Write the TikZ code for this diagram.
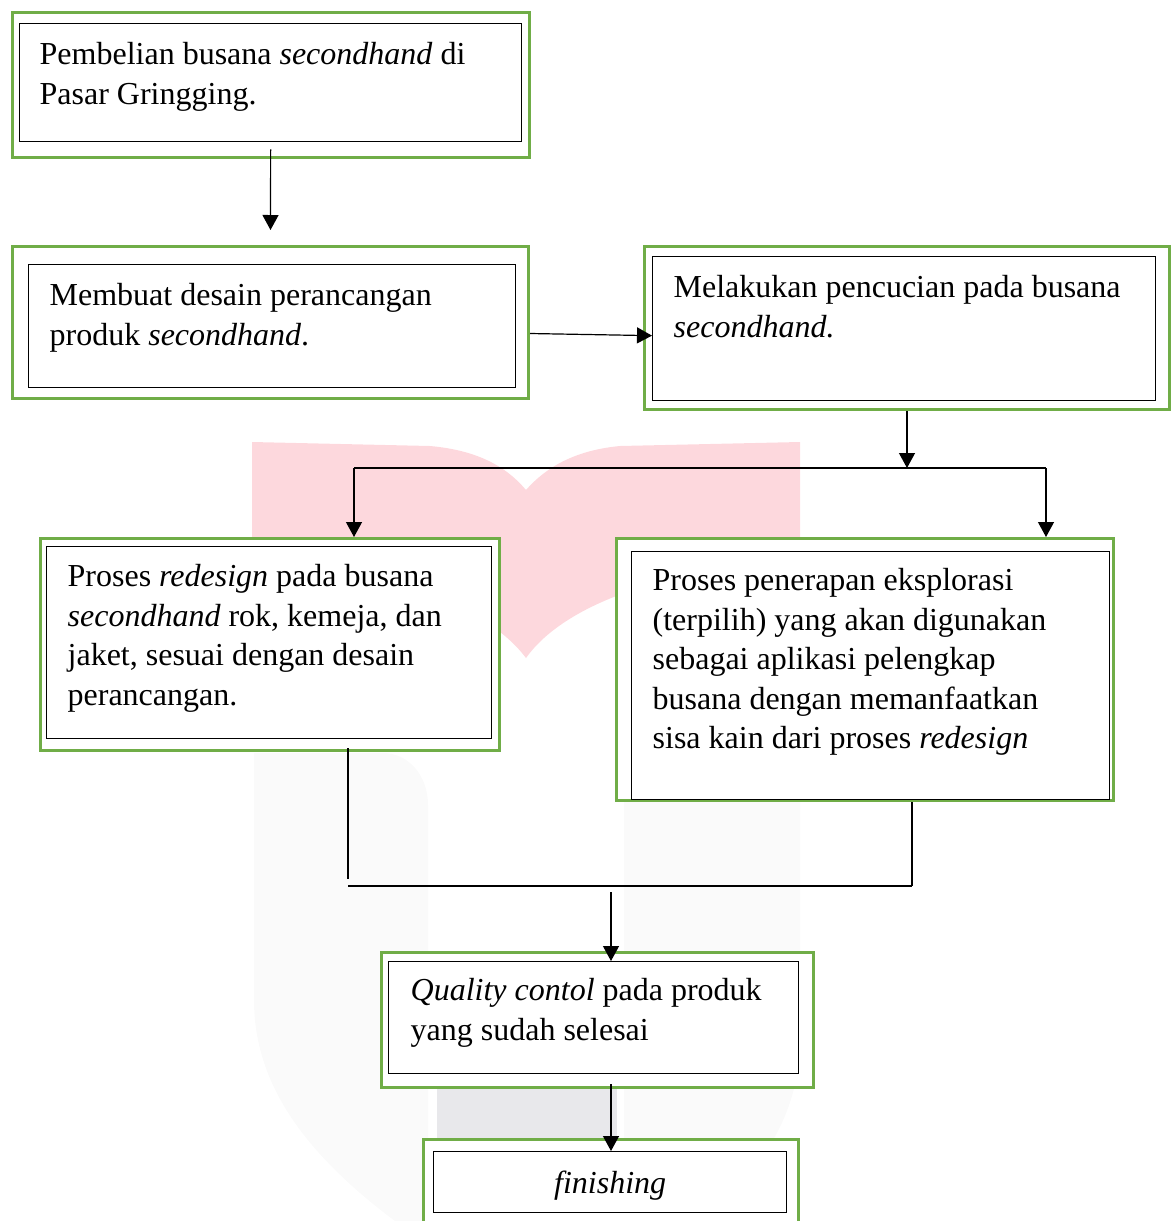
\documentclass[tikz,border=0pt]{standalone}
\usepackage{fontspec}
\setmainfont{Liberation Serif}
\usetikzlibrary{arrows.meta}

\definecolor{hijau}{RGB}{112,173,71}
\definecolor{merahmuda}{RGB}{253,216,221}
\definecolor{abumuda}{RGB}{250,250,250}
\definecolor{abutua}{RGB}{232,232,235}

\newcommand{\isi}[3]{\parbox[t][#2pt][t]{#1pt}{\raggedright #3}}

\begin{document}
\begin{tikzpicture}[x=1pt,y=-1pt,
  bingkai/.style={draw=hijau,line width=3pt,fill=white,inner sep=0pt,anchor=north west},
  kotak/.style={draw=black,line width=1.3pt,fill=white,anchor=north west,
    font=\fontsize{32}{39.5}\selectfont},
  garis/.style={line width=1.2pt},
  panah/.style={garis,-{Triangle[length=15pt,width=16pt]}}]
  \useasboundingbox (0,0) rectangle (1174,1221);

  % watermark
  \fill[merahmuda] (252,442) -- (430,446) .. controls (475,450) and (505,465) .. (526,490)
    .. controls (548,465) and (578,450) .. (620,446) -- (800,442) -- (800,560)
    .. controls (650,570) and (560,610) .. (526,658)
    .. controls (490,610) and (400,570) .. (252,560) -- cycle;
  \fill[abumuda] (254,753) -- (383,753) .. controls (408,753) and (428,775) .. (428,805)
    -- (428,1221) -- (395,1221) .. controls (300,1150) and (254,1080) .. (254,1000) -- cycle;
  \fill[abumuda] (624,790) -- (800,790) -- (800,1040) .. controls (800,1110) and (765,1170) .. (700,1221)
    -- (624,1221) -- cycle;
  \fill[abutua] (437,1000) rectangle (617,1221);

  \node[bingkai,minimum width=517pt,minimum height=145pt] (g1) at (11,11) {};
  \node[kotak,inner xsep=20pt,inner ysep=19pt] (k1) at (19,23)
    {\isi{462}{80}{Pembelian busana \emph{secondhand} di\\Pasar Gringging.}};

  \node[bingkai,minimum width=516pt,minimum height=152pt] (g2) at (11,245) {};
  \node[kotak,inner xsep=21pt,inner ysep=19pt] (k2) at (28,264)
    {\isi{445}{85}{Membuat desain perancangan\\produk \emph{secondhand}.}};

  \node[bingkai,minimum width=525pt,minimum height=163pt] (g3) at (643,245) {};
  \node[kotak,inner xsep=21pt,inner ysep=19pt] (k3) at (652,256)
    {\isi{461}{106}{Melakukan pencucian pada busana\\\emph{secondhand.}}};

  \node[bingkai,minimum width=459pt,minimum height=212pt] (g4) at (39,537) {};
  \node[kotak,inner xsep=21pt,inner ysep=18pt] (k4) at (46,546)
    {\isi{403}{156}{Proses \emph{redesign} pada busana\\\emph{secondhand} rok, kemeja, dan\\jaket, sesuai dengan desain\\perancangan.}};

  \node[bingkai,minimum width=497pt,minimum height=262pt] (g5) at (615,537) {};
  \node[kotak,inner xsep=21pt,inner ysep=17pt] (k5) at (631,551)
    {\isi{436}{214}{Proses penerapan eksplorasi\\(terpilih) yang akan digunakan\\sebagai aplikasi pelengkap\\busana dengan memanfaatkan\\sisa kain dari proses \emph{redesign}}};

  \node[bingkai,minimum width=432pt,minimum height=135pt] (g6) at (380,951) {};
  \node[kotak,inner xsep=22pt,inner ysep=17pt] (k6) at (388,961)
    {\isi{366}{78}{\emph{Quality contol} pada produk\\yang sudah selesai}};

  \node[bingkai,minimum width=375pt,minimum height=100pt] (g7) at (422,1138) {};
  \node[kotak,inner xsep=20pt,inner ysep=19pt] (k7) at (433,1151)
    {\parbox[t][23pt][t]{313pt}{\centering\emph{finishing}}};

  \coordinate (cabangKiri) at (354,468);
  \coordinate (cabangKanan) at (1046,468);
  \coordinate (gabungKiri) at (348,886);
  \coordinate (gabungKanan) at (912,886);
  \coordinate (tengah) at (611,886);

  \draw[panah] ([yshift=-7pt]k1.south) -- ([yshift=15pt]g2.north);
  \draw[panah] ([yshift=-11pt]g2.east) -- ([yshift=-7pt]k3.west);
  \draw[panah] (g3.south) -- (g3.south |- cabangKanan);
  \draw[garis] (cabangKiri) -- (cabangKanan);
  \draw[panah] (cabangKiri) -- (cabangKiri |- g4.north);
  \draw[panah] (cabangKanan) -- (cabangKanan |- g5.north);
  \draw[garis] ([yshift=4pt]gabungKiri |- g4.south) -- ([yshift=7pt]gabungKiri);
  \draw[garis] (gabungKiri) -- (gabungKanan);
  \draw[garis] (gabungKanan |- g5.south) -- (gabungKanan);
  \draw[panah] ([yshift=-6pt]tengah) -- (tengah |- k6.north);
  \draw[panah] ([yshift=-10pt]tengah |- k6.south) -- (tengah |- k7.north);
\end{tikzpicture}
\end{document}
